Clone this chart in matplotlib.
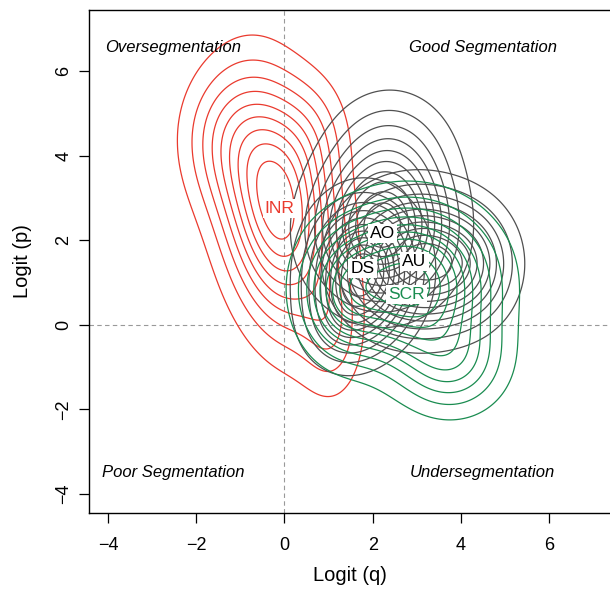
import matplotlib
import matplotlib.pyplot as plt
import numpy as np

matplotlib.use('Agg')
plt.rcParams['font.family'] = ['Liberation Sans', 'DejaVu Sans']

# each group is a few gaussian bumps:
# centre x, centre y, sd x, sd y, correlation, peak height
inr_mx = [-0.15, -1.4, 1.1, 0.7]
inr_my = [2.8, 4.4, -0.2, 4.6]
inr_sx = [0.85, 0.7, 0.45, 0.55]
inr_sy = [1.85, 1.1, 1.0, 0.9]
inr_rho = [-0.25, 0.0, 0.0, 0.0]
inr_w = [1.0, 0.22, 0.2, 0.12]

ao_mx = [2.2, 2.4]
ao_my = [2.2, 4.0]
ao_sx = [0.95, 0.9]
ao_sy = [1.05, 1.0]
ao_rho = [0.0, 0.0]
ao_w = [1.0, 0.3]

au_mx = [3.0, 4.2]
au_my = [1.5, 1.4]
au_sx = [1.0, 0.65]
au_sy = [1.0, 0.85]
au_rho = [0.0, 0.0]
au_w = [1.0, 0.3]

ds_mx = [1.8, 1.3]
ds_my = [1.3, 0.0]
ds_sx = [0.75, 0.6]
ds_sy = [1.0, 0.7]
ds_rho = [0.0, 0.0]
ds_w = [1.0, 0.25]

scr_mx = [2.8, 3.8, 1.3]
scr_my = [1.0, -0.9, 0.7]
scr_sx = [1.15, 0.8, 0.6]
scr_sy = [1.1, 0.8, 0.9]
scr_rho = [0.0, 0.0, 0.0]
scr_w = [1.0, 0.35, 0.35]

group_names = ["INR", "AO", "AU", "DS", "SCR"]
group_colors = ["#ea3a2e", "#505050", "#505050", "#505050", "#1a8c50"]
group_nlevels = [9, 10, 10, 10, 10]
label_x = [-0.11, 2.22, 2.95, 1.77, 2.77]
label_y = [2.74, 2.15, 1.49, 1.32, 0.71]

quadrant_text = ["Oversegmentation", "Good Segmentation",
                 "Poor Segmentation", "Undersegmentation"]
quadrant_x = [-2.52, 4.49, -2.52, 4.49]
quadrant_y = [6.55, 6.55, -3.5, -3.5]

xx, yy = np.meshgrid(np.linspace(-5, 8, 400), np.linspace(-5, 8, 400))


def density(mx, my, sx, sy, rho, w):
    """sum of unnormalised gaussian bumps on the grid"""
    z = np.zeros_like(xx)
    for i in range(len(mx)):
        dx = (xx - mx[i]) / sx[i]
        dy = (yy - my[i]) / sy[i]
        q = (dx ** 2 - 2 * rho[i] * dx * dy + dy ** 2) / (1 - rho[i] ** 2)
        z += w[i] * np.exp(-q / 2)
    return z


groups = [
    (inr_mx, inr_my, inr_sx, inr_sy, inr_rho, inr_w),
    (ao_mx, ao_my, ao_sx, ao_sy, ao_rho, ao_w),
    (au_mx, au_my, au_sx, au_sy, au_rho, au_w),
    (ds_mx, ds_my, ds_sx, ds_sy, ds_rho, ds_w),
    (scr_mx, scr_my, scr_sx, scr_sy, scr_rho, scr_w),
]

fig = plt.figure(figsize=(6.10, 5.89), dpi=100)
ax = fig.add_axes([89 / 610, 76 / 589, 521 / 610, 503 / 589])

ax.axvline(0, color="#999999", lw=0.8, ls=(0, (4, 3)))
ax.axhline(0, color="#999999", lw=0.8, ls=(0, (4, 3)))

for g, col, nl in zip(groups, group_colors, group_nlevels):
    z = density(*g)
    lev = z.max() * np.arange(1, nl + 1) / (nl + 1)
    ax.contour(xx, yy, z, levels=lev, colors=col, linewidths=0.9)

for name, col, lx, ly in zip(group_names, group_colors, label_x, label_y):
    ax.text(lx, ly, name, color=col if name in ("INR", "SCR") else "black",
            fontsize=12.5, ha="center", va="center",
            bbox=dict(fc="white", ec="none", pad=1.5))

for t, qx, qy in zip(quadrant_text, quadrant_x, quadrant_y):
    ax.text(qx, qy, t, style="italic", fontsize=12, ha="center", va="center")

ax.set_xlim(-4.43, 7.38)
ax.set_ylim(-4.45, 7.44)
ax.set_xticks([-4, -2, 0, 2, 4, 6])
ax.set_yticks([-4, -2, 0, 2, 4, 6])
ax.set_yticklabels(["−4", "−2", "0", "2", "4", "6"], rotation=90, va="center")
ax.set_xticklabels(["−4", "−2", "0", "2", "4", "6"])
ax.tick_params(labelsize=13, length=7, width=0.9)
ax.tick_params(axis="x", pad=10)
ax.tick_params(axis="y", pad=5)
ax.spines["right"].set_visible(False)
for s in ("left", "top", "bottom"):
    ax.spines[s].set_linewidth(1.0)

ax.set_xlabel("Logit (q)", fontsize=14.5, labelpad=9)
ax.set_ylabel("Logit (p)", fontsize=14.5, labelpad=17)

fig.savefig("out.png", dpi=100)
